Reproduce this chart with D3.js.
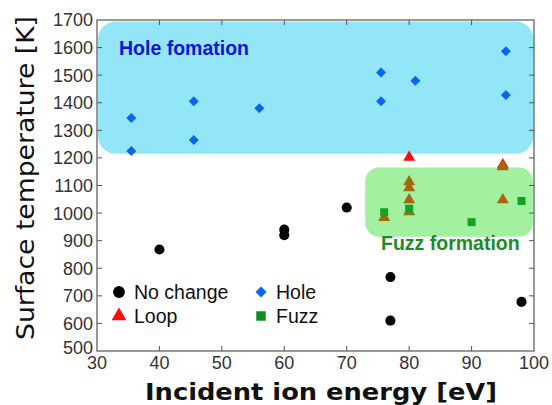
<!DOCTYPE html>
<html>
<head>
<meta charset="utf-8">
<script src="https://cdn.jsdelivr.net/npm/d3@7"></script>
<style>
  html, body { margin: 0; padding: 0; background: #fff; }
  svg { display: block; }
</style>
</head>
<body>
<svg id="chart" width="552" height="405"></svg>
<script>
// data: [energy eV, temperature K]
const noChange = [[40, 868], [60, 940], [60, 920], [70, 1020], [77, 768], [77, 610], [98, 678]]
const hole = [[35.5, 1345], [35.5, 1225], [45.5, 1405], [45.5, 1265], [56, 1380],
  [75.5, 1510], [75.5, 1405], [81, 1480], [95.5, 1587], [95.5, 1428]]
const loop = [[80, 1202], [95, 1175]]
const loopFuzz = [[76, 984], [80, 1113], [80, 1092], [80, 1048], [80, 1005], [95, 1168], [95, 1048]]
const fuzz = [[76, 1003], [80, 1016], [90, 967], [98, 1044]]
const xTicks = [30, 40, 50, 60, 70, 80, 90, 100]
const yTicks = [500, 600, 700, 800, 900, 1000, 1100, 1200, 1300, 1400, 1500, 1600, 1700]
// regions: [x0, x1, y0, y1]
const holeRegion = [30, 100, 1215, 1700]
const fuzzRegion = [72.8, 99.9, 914, 1171]

const margin = { left: 97, top: 20, right: 18, bottom: 54 }
const width = 552 - margin.left - margin.right
const height = 405 - margin.top - margin.bottom

const svg = d3.select('#chart')
const g = svg.append('g').attr('transform', `translate(${margin.left},${margin.top})`)

const x = d3.scaleLinear().domain([30, 100]).range([0, width])
const y = d3.scaleLinear().domain([500, 1700]).range([height, 0])

/**
 * rounded background region
 */
function drawRegion(selection, opt) {
  const r = opt.region
  selection.append('rect')
    .attr('x', x(r[0]) + 1)
    .attr('y', y(r[3]) + 1.5)
    .attr('width', x(r[1]) - x(r[0]) - 1.5)
    .attr('height', y(r[2]) - y(r[3]) - 1.5)
    .attr('rx', opt.radius)
    .attr('fill', opt.fill)
}

g.call(drawRegion, { region: holeRegion, radius: 18, fill: '#93e6f8' })
g.call(drawRegion, { region: fuzzRegion, radius: 14, fill: '#a3f0a0' })

g.append('text')
  .attr('x', 22).attr('y', 35)
  .attr('font-family', 'Liberation Sans, Arial, sans-serif')
  .attr('font-weight', 'bold').attr('font-size', 19.5)
  .attr('fill', '#1414d4')
  .text('Hole fomation')

g.append('text')
  .attr('x', 284).attr('y', 230)
  .attr('font-family', 'Liberation Sans, Arial, sans-serif')
  .attr('font-weight', 'bold').attr('font-size', 19.5)
  .attr('fill', '#1e8a2a')
  .text('Fuzz formation')

// frame and ticks
g.append('rect')
  .attr('width', width).attr('height', height)
  .attr('fill', 'none').attr('stroke', '#555').attr('stroke-width', 1.2)

const tickLen = 5
g.selectAll('.xt').data(xTicks.slice(1, -1)).enter().append('path')
  .attr('d', d => `M${x(d)},${height}V${height - tickLen}M${x(d)},0V${tickLen}`)
  .attr('stroke', '#555')
g.selectAll('.yt').data(yTicks.slice(1, -1)).enter().append('path')
  .attr('d', d => `M0,${y(d)}H${tickLen}M${width},${y(d)}H${width - tickLen}`)
  .attr('stroke', '#555')

const tickFont = 'Liberation Sans, Arial, sans-serif'
g.selectAll('.xl').data(xTicks).enter().append('text')
  .attr('x', d => x(d)).attr('y', height + 18)
  .attr('text-anchor', 'middle')
  .attr('font-family', tickFont).attr('font-size', 18)
  .attr('fill', '#333')
  .text(d => d)
// the bottom label sits a bit higher so it does not run into "30"
g.selectAll('.yl').data(yTicks).enter().append('text')
  .attr('x', -4).attr('y', d => y(d) - (d === 500 ? 3 : 0))
  .attr('dy', '0.36em')
  .attr('text-anchor', 'end')
  .attr('font-family', tickFont).attr('font-size', 18)
  .attr('fill', '#333')
  .text(d => d)

// axis titles
svg.append('text')
  .attr('x', 145).attr('y', 400)
  .attr('font-family', 'DejaVu Sans, sans-serif')
  .attr('font-weight', 'bold').attr('font-size', 23)
  .attr('textLength', 352).attr('lengthAdjust', 'spacingAndGlyphs')
  .attr('fill', '#111')
  .text('Incident ion energy [eV]')

svg.append('text')
  .attr('transform', 'translate(34,340) rotate(-90)')
  .attr('font-family', 'DejaVu Sans, sans-serif')
  .attr('font-size', 24)
  .attr('textLength', 324).attr('lengthAdjust', 'spacingAndGlyphs')
  .attr('fill', '#111')
  .text('Surface temperature [K]')

/**
 * scatter of one series
 */
function drawPoints(selection, opt) {
  selection.append('g')
    .selectAll('path')
    .data(opt.data)
    .enter()
    .append('path')
    .attr('d', d3.symbol().type(opt.type).size(opt.size))
    .attr('transform', d => `translate(${x(d[0])},${y(d[1])}) rotate(${opt.rotate || 0})`)
    .attr('fill', opt.fill)
}

g.call(drawPoints, { data: noChange, type: d3.symbolCircle, size: 80, fill: '#000' })
g.call(drawPoints, { data: hole, type: d3.symbolSquare, size: 50, rotate: 45, fill: '#0a66ee' })
g.call(drawPoints, { data: loop, type: d3.symbolTriangle, size: 62, fill: '#ff0a0a' })
g.call(drawPoints, { data: loopFuzz, type: d3.symbolTriangle, size: 62, fill: '#a8640e' })
g.call(drawPoints, { data: fuzz, type: d3.symbolSquare, size: 64, fill: '#10a51e' })

// legend
const legendItems = [
  { label: 'No change', type: d3.symbolCircle, size: 110, fill: '#000', col: 0, row: 0 },
  { label: 'Hole', type: d3.symbolSquare, size: 60, rotate: 45, fill: '#0a66ee', col: 1, row: 0 },
  { label: 'Loop', type: d3.symbolTriangle, size: 95, fill: '#ff0a0a', col: 0, row: 1 },
  { label: 'Fuzz', type: d3.symbolSquare, size: 90, fill: '#128c1e', col: 1, row: 1 }
]
const legend = svg.append('g')
  .selectAll('g')
  .data(legendItems)
  .enter()
  .append('g')
  .attr('transform', d => `translate(${119 + d.col * 142},${292 + d.row * 24})`)

legend.append('path')
  .attr('d', d => d3.symbol().type(d.type).size(d.size)())
  .attr('transform', d => `rotate(${d.rotate || 0})`)
  .attr('fill', d => d.fill)

legend.append('text')
  .attr('x', 15).attr('dy', '0.36em')
  .attr('font-family', tickFont).attr('font-size', 19.5)
  .attr('fill', '#111')
  .text(d => d.label)
</script>
</body>
</html>
